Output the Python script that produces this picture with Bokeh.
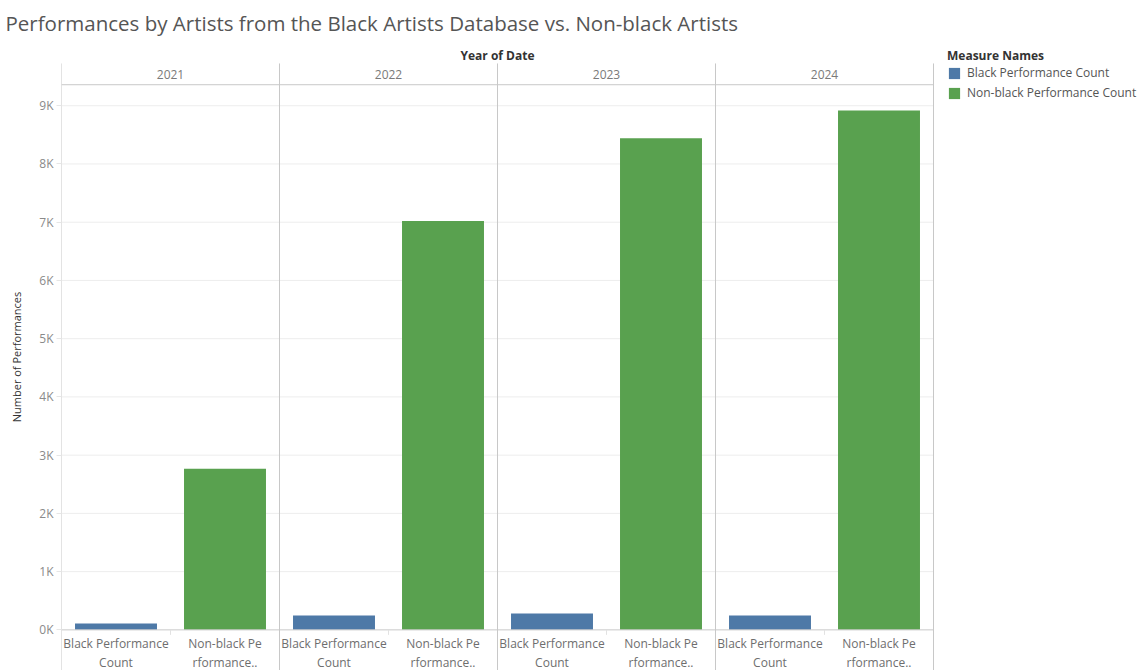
from bokeh.plotting import figure
from bokeh.models import (ColumnDataSource, FixedTicker, Legend, LegendItem, Range1d)
from bokeh.core.properties import value
from bokeh.embed import file_html
from bokeh.resources import INLINE

# ---------------- data ----------------
years = ["2021", "2022", "2023", "2024"]
measures = ["Black Performance Count", "Non-black Performance Count"]
measure_tick_labels = ["Black Performance\nCount", "Non-black Pe\nrformance.."]
black_counts = [108, 245, 280, 245]
nonblack_counts = [2765, 7020, 8440, 8920]
y_ticks = [0, 1000, 2000, 3000, 4000, 5000, 6000, 7000, 8000, 9000]
y_tick_labels = ["0K", "1K", "2K", "3K", "4K", "5K", "6K", "7K", "8K", "9K"]

colors = ["#4e79a7", "#59a14f"]
FONT = "Open Sans"
LINE = "#c8c8c8"

# ---------------- geometry (page pixels) ----------------
W, H = 1139, 670
LEFT, TOP = 61, 42              # frame: x from 61 to right edge, y from 42 to bottom
PANEL_W = 218.0                 # pixel width of one year panel
BASE = 629.3                    # page y of the zero line
PX_PER_UNIT = 58.33 / 1000.0    # pixels per performance

n_panels = len(years)
n_slots = len(measures)
slot_px = PANEL_W / n_slots


def ydata(page_y):
    return (BASE - page_y) / PX_PER_UNIT


def xdata(page_x):
    return (page_x - LEFT) / slot_px


x_end_panels = n_panels * n_slots
header_top = ydata(62)
header_line = ydata(83.3)
header_text = ydata(72.6)
year_title_y = ydata(54)
cat_label_y = ydata(BASE + 5.5)
small_tick_y = ydata(BASE + 5)

p = figure(width=W, height=H, output_backend="svg", toolbar_location=None,
           x_range=Range1d(0, xdata(W)), y_range=Range1d(ydata(H), ydata(TOP)),
           min_border_left=LEFT, min_border_right=0, min_border_top=TOP,
           min_border_bottom=0)
p.outline_line_color = None
p.background_fill_color = "white"
p.border_fill_color = "white"
p.xaxis.visible = False
p.xgrid.visible = False
p.ygrid.visible = False

# gridlines (limited to the panels)
grid_vals = y_ticks[1:]
p.segment(x0=[0] * len(grid_vals), x1=[x_end_panels] * len(grid_vals), y0=grid_vals, y1=grid_vals,
          line_color="#ededed", line_width=1)

# bars
src_black = ColumnDataSource(dict(x=[n_slots * i + 0.5 for i in range(n_panels)], top=black_counts))
src_non = ColumnDataSource(dict(x=[n_slots * i + 1.5 for i in range(n_panels)], top=nonblack_counts))
r_black = p.vbar(x="x", top="top", bottom=0, width=0.752, source=src_black,
                 fill_color=colors[0], line_color=None)
r_non = p.vbar(x="x", top="top", bottom=0, width=0.752, source=src_non,
               fill_color=colors[1], line_color=None)

# y axis
yax = p.yaxis[0]
yax.ticker = FixedTicker(ticks=y_ticks)
yax.major_label_overrides = {t: l for t, l in zip(y_ticks, y_tick_labels)}
yax.axis_label = "Number of Performances"
yax.axis_label_text_font = FONT
yax.axis_label_text_font_size = "11px"
yax.axis_label_text_font_style = "normal"
yax.axis_label_text_color = "#333333"
yax.axis_label_standoff = 12
yax.major_label_text_font = FONT
yax.major_label_text_font_size = "12px"
yax.major_label_text_color = "#8a8a8a"
yax.major_label_standoff = 3
yax.major_tick_out = 5
yax.major_tick_in = 0
yax.major_tick_line_color = "#e6e6e6"
yax.minor_tick_line_color = None
yax.axis_line_color = None

# panel separators (including outer edges), header line and baseline
sep_x = [n_slots * k for k in range(n_panels + 1)]
p.segment(x0=sep_x, x1=sep_x, y0=[ydata(H)] * len(sep_x), y1=[header_top] * len(sep_x),
          line_color=LINE, line_width=1)
p.segment(x0=[0, 0], x1=[x_end_panels, x_end_panels], y0=[0, header_line], y1=[0, header_line],
          line_color=LINE, line_width=1)

# small ticks between categories inside panels
mid_x = [n_slots * i + 1 for i in range(n_panels)]
p.segment(x0=mid_x, x1=mid_x, y0=[0] * n_panels, y1=[small_tick_y] * n_panels,
          line_color="#e2e2e2", line_width=1)

# header: "Year of Date" and the years
p.text(x=[x_end_panels / 2], y=[year_title_y], text=["Year of Date"], text_align="center",
       text_baseline="middle", text_font=value(FONT), text_font_size="12px",
       text_font_style="bold", text_color="#333333")
p.text(x=[n_slots * i + n_slots / 2 for i in range(n_panels)], y=[header_text] * n_panels,
       text=years, text_align="center", text_baseline="middle",
       text_font=value(FONT), text_font_size="12px", text_color="#7a7a7a")

# category labels under bars
cx, ct = [], []
for i in range(n_panels):
    for j in range(n_slots):
        cx.append(n_slots * i + j + 0.5)
        ct.append(measure_tick_labels[j])
p.text(x=cx, y=[cat_label_y] * len(cx), text=ct, text_align="center", text_baseline="top",
       text_font=value(FONT), text_font_size="12px", text_color="#6e6e6e",
       text_line_height=1.1)

# title
p.title.text = "Performances by Artists from the Black Artists Database  vs. Non-black Artists"
p.title.align = "left"
p.title.offset = -56
p.title.text_font = FONT
p.title.text_font_size = "20.5px"
p.title.text_font_style = "normal"
p.title.text_color = "#555555"
p.title.standoff = 13

# legend (inside the frame, right of the panels)
legend = Legend(items=[LegendItem(label=measures[0], renderers=[r_black]),
                       LegendItem(label=measures[1], renderers=[r_non])],
                location=(947 - LEFT, H - 101), title="Measure Names",
                title_text_font=FONT, title_text_font_size="12px", title_text_font_style="bold",
                title_text_color="#333333", title_standoff=0,
                label_text_font=FONT, label_text_font_size="12px", label_text_color="#555555",
                glyph_width=14, glyph_height=14, label_height=14, spacing=3, label_standoff=6,
                padding=0, margin=0, border_line_color=None, background_fill_alpha=0)
p.add_layout(legend)

open("out.html", "w").write(file_html(p, INLINE))
